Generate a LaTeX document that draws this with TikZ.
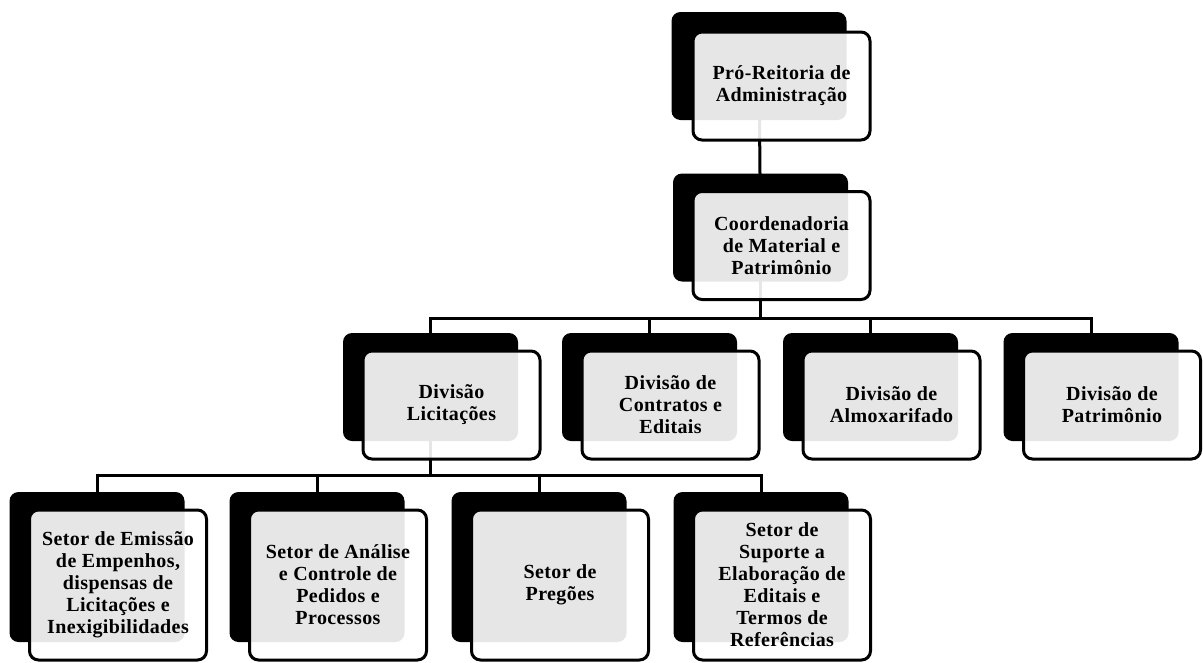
\documentclass[tikz,border=0pt]{standalone}
\usepackage{fontspec}
\setmainfont{Liberation Serif}[LetterSpace=2]
\usepackage{tikz}
\usetikzlibrary{positioning, calc, backgrounds}

\begin{document}
\begin{tikzpicture}[
    x=1pt, y=-1pt,
    font=\bfseries\fontsize{20}{22}\selectfont,
    backbox/.style={rectangle, fill=black, rounded corners=9pt, minimum width=175pt},
    unit/.style={rectangle, draw, line width=3pt, rounded corners=9pt, fill=white, fill opacity=0.9, text opacity=1,
                 minimum width=177pt, align=center, inner sep=2pt, xshift=21pt, yshift=-18pt},
    upperbk/.style={backbox, minimum height=108pt},
    lowerbk/.style={backbox, minimum height=150pt},
    upper/.style={unit, minimum height=108pt},
    lower/.style={unit, minimum height=150pt},
    conn/.style={line width=3pt}
]
\useasboundingbox (0,0) rectangle (1203,662);

% Pro-Reitoria
\node[upperbk] (pra-bk) at (759,66) {};
\node[upper, xshift=1.5pt, yshift=-2pt] (pra) at (pra-bk) {Pró-Reitoria de\\Administração};

% Coordenadoria
\node[upperbk] (cmp-bk) at (760.5,227.5) {};
\node[upper] (cmp) at (cmp-bk) {Coordenadoria\\de Material e\\Patrimônio};

% Divisoes
\node[upperbk] (dlic-bk) at (430.5,387) {};
\node[upper] (dlic) at (dlic-bk) {Divisão\\Licitações};
\node[upperbk] (dcon-bk) at (649.5,387) {};
\node[upper] (dcon) at (dcon-bk) {Divisão de\\Contratos e\\Editais};
\node[upperbk] (dalm-bk) at (870.5,387) {};
\node[upper] (dalm) at (dalm-bk) {Divisão de\\Almoxarifado};
\node[upperbk] (dpat-bk) at (1091,387) {};
\node[upper] (dpat) at (dpat-bk) {Divisão de\\Patrimônio};

% Setores
\node[lowerbk] (semp-bk) at (97,567) {};
\node[lower] (semp) at (semp-bk) {Setor de Emissão\\de Empenhos,\\dispensas de\\Licitações e\\Inexigibilidades};
\node[lowerbk] (sana-bk) at (317,567) {};
\node[lower] (sana) at (sana-bk) {Setor de Análise\\e Controle de\\Pedidos e\\Processos};
\node[lowerbk] (spre-bk) at (539,567) {};
\node[lower] (spre) at (spre-bk) {Setor de\\Pregões};
\node[lowerbk] (ssup-bk) at (761,567) {};
\node[lower] (ssup) at (ssup-bk) {Setor de\\Suporte a\\Elaboração de\\Editais e\\Termos de\\Referências};

% Connectors
\path (cmp-bk) ++(0,90.5) coordinate (bar2);
\path (dlic-bk) ++(0,88) coordinate (bar3);
\begin{scope}[on background layer]
\draw[conn] (pra-bk.center) -- (cmp-bk.center);
\foreach \n in {dlic,dcon,dalm,dpat}
    \draw[conn] (cmp-bk.center) |- (bar2) -| (\n-bk.center);
\foreach \n in {semp,sana,spre,ssup}
    \draw[conn] (dlic-bk.center) |- (bar3) -| (\n-bk.center);
\end{scope}

\end{tikzpicture}
\end{document}
